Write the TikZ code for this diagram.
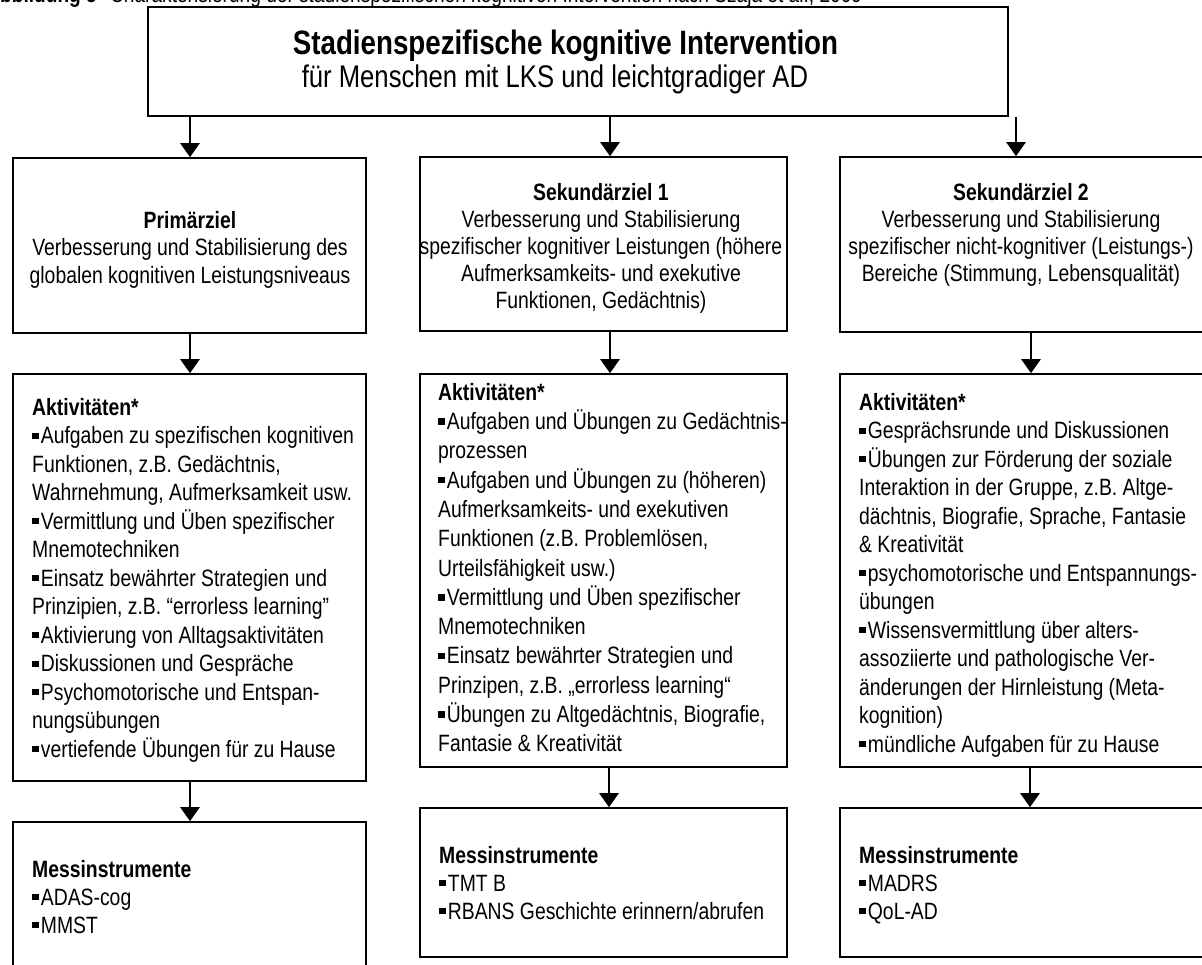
\documentclass[tikz,border=0pt]{standalone}
\usepackage{fontspec}
\setmainfont{Liberation Sans}[FakeStretch=0.82]
\usetikzlibrary{arrows.meta}
\frenchspacing
\newcommand{\bul}{\raisebox{0.2em}{\rule{0.27em}{0.27em}}\hspace{0.1em}}
\begin{document}
\begin{tikzpicture}[x=1pt,y=-1pt,
  box/.style={draw, line width=1.6pt, inner sep=0pt},
  arr/.style={line width=2.6pt, -{Triangle[width=19pt,length=14pt]}},
  txt/.style={inner sep=0pt, font=\fontsize{23.6pt}{#1pt}\selectfont},
  txt/.default=28.5]
\useasboundingbox (0,0) rectangle (1202,965);
\clip (0,0) rectangle (1202,965);

% caption (cut at the top edge)
\node[inner sep=0pt, anchor=base east, font=\fontsize{23.3pt}{28pt}\selectfont\bfseries] (cap1) at (97,2.5) {Abbildung 5};
\node[inner sep=0pt, anchor=base west, font=\fontsize{23.3pt}{28pt}\selectfont] (cap2) at (110,2.5) {Charakterisierung der stadienspezifischen kognitiven Intervention nach Szaja et al., 2009};

% boxes
\node[box, minimum width=860, minimum height=109] (top) at (578,61.5) {};
\node[box, minimum width=353, minimum height=175] (z1) at (189.5,245.5) {};
\node[box, minimum width=367, minimum height=174] (z2) at (603.5,244) {};
\node[box, minimum width=365, minimum height=175] (z3) at (1022.5,244.5) {};
\node[box, minimum width=353, minimum height=407] (a1) at (189.5,577.5) {};
\node[box, minimum width=367, minimum height=393] (a2) at (603.5,570.5) {};
\node[box, minimum width=365, minimum height=393] (a3) at (1022.5,570.5) {};
\node[box, minimum width=353, minimum height=158] (m1) at (189.5,901) {};
\node[box, minimum width=367, minimum height=149] (m2) at (603.5,882.5) {};
\node[box, minimum width=365, minimum height=149] (m3) at (1022.5,882.5) {};

% title texts
\node[inner sep=0pt, anchor=base, font=\fontsize{33.8pt}{40pt}\selectfont\bfseries] (title) at (565.5,55) {Stadienspezifische kognitive Intervention};
\node[inner sep=0pt, anchor=base, font=\fontsize{31.3pt}{37pt}\selectfont] (subtitle) at (555,88) {für Menschen mit LKS und leichtgradiger AD};

% row 1 texts
\node[txt=27.5, align=center, anchor=north] (tz1) at (190,208.75) {\strut\textbf{Primärziel}\\Verbesserung und Stabilisierung des\\globalen kognitiven Leistungsniveaus};
\node[txt=27, align=center, anchor=north] (tz2) at (601,181.1) {\strut\textbf{Sekundärziel 1}\\Verbesserung und Stabilisierung\\spezifischer kognitiver Leistungen (höhere\\Aufmerksamkeits- und exekutive\\Funktionen, Gedächtnis)};
\node[txt=27, align=center, anchor=north] (tz3) at (1021,181.1) {\strut\textbf{Sekundärziel 2}\\Verbesserung und Stabilisierung\\spezifischer nicht-kognitiver (Leistungs-)\\Bereiche (Stimmung, Lebensqualität)};

% row 2 texts
\node[txt=28.5, align=left, anchor=north west] (ta1) at (32,395.05) {\strut\textbf{Aktivitäten*}\\\bul Aufgaben zu spezifischen kognitiven\\Funktionen, z.B. Gedächtnis,\\Wahrnehmung, Aufmerksamkeit usw.\\\bul Vermittlung und Üben spezifischer\\Mnemotechniken\\\bul Einsatz bewährter Strategien und\\Prinzipien, z.B. “errorless learning”\\\bul Aktivierung von Alltagsaktivitäten\\\bul Diskussionen und Gespräche\\\bul Psychomotorische und Entspan-\\nungsübungen\\\bul vertiefende Übungen für zu Hause};
\node[txt=29.3, align=left, anchor=north west] (ta2) at (438,379.5) {\strut\textbf{Aktivitäten*}\\\bul Aufgaben und Übungen zu Gedächtnis-\\prozessen\\\bul Aufgaben und Übungen zu (höheren)\\Aufmerksamkeits- und exekutiven\\Funktionen (z.B. Problemlösen,\\Urteilsfähigkeit usw.)\\\bul Vermittlung und Üben spezifischer\\Mnemotechniken\\\bul Einsatz bewährter Strategien und\\Prinzipen, z.B. „errorless learning“\\\bul Übungen zu Altgedächtnis, Biografie,\\Fantasie \& Kreativität};
\node[txt=28.5, align=left, anchor=north west] (ta3) at (859,390.05) {\strut\textbf{Aktivitäten*}\\\bul Gesprächsrunde und Diskussionen\\\bul Übungen zur Förderung der soziale\\Interaktion in der Gruppe, z.B. Altge-\\dächtnis, Biografie, Sprache, Fantasie\\\& Kreativität\\\bul psychomotorische und Entspannungs-\\übungen\\\bul Wissensvermittlung über alters-\\assoziierte und pathologische Ver-\\änderungen der Hirnleistung (Meta-\\kognition)\\\bul mündliche Aufgaben für zu Hause};

% row 3 texts
\node[txt=28, align=left, anchor=north west] (tm1) at (32,857.4) {\strut\textbf{Messinstrumente}\\\bul ADAS-cog\\\bul MMST};
\node[txt=28, align=left, anchor=north west] (tm2) at (439,843.4) {\strut\textbf{Messinstrumente}\\\bul TMT B\\\bul RBANS Geschichte erinnern/abrufen};
\node[txt=28, align=left, anchor=north west] (tm3) at (859,843.4) {\strut\textbf{Messinstrumente}\\\bul MADRS\\\bul QoL-AD};

% connectors
\draw[arr] ([xshift=0.5]z1.north |- top.south) -- ([xshift=0.5]z1.north);
\draw[arr] ([xshift=6.5]z2.north |- top.south) -- ([xshift=6.5]z2.north);
\draw[arr] ([xshift=-6.5]z3.north |- top.south) -- ([xshift=-6.5]z3.north);
\draw[arr] ([xshift=0.5]z1.south) -- ([xshift=0.5]z1.south |- a1.north);
\draw[arr] ([xshift=6.5]z2.south) -- ([xshift=6.5]z2.south |- a2.north);
\draw[arr] ([xshift=8.5]z3.south) -- ([xshift=8.5]z3.south |- a3.north);
\draw[arr] ([xshift=0.5]a1.south) -- ([xshift=0.5]a1.south |- m1.north);
\draw[arr] ([xshift=5.5]a2.south) -- ([xshift=5.5]a2.south |- m2.north);
\draw[arr] ([xshift=7.5]a3.south) -- ([xshift=7.5]a3.south |- m3.north);
\end{tikzpicture}
\end{document}
